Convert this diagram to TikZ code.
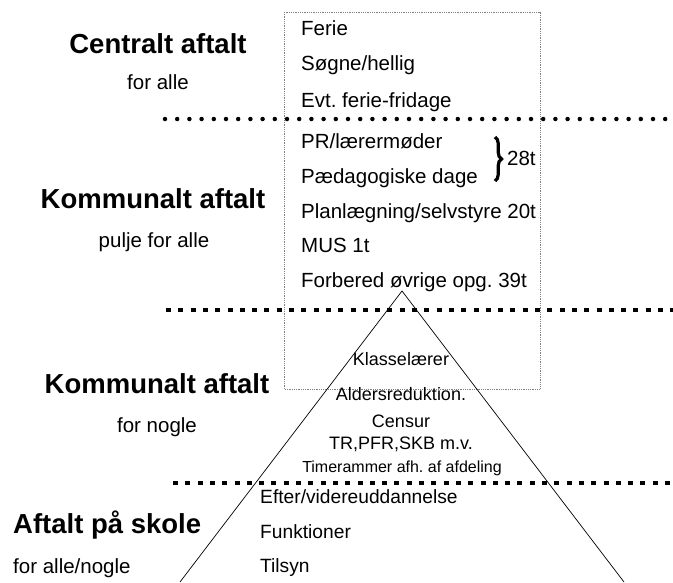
\documentclass[tikz,border=0pt]{standalone}
\usepackage{fontspec}
\setmainfont{Liberation Sans}
\usetikzlibrary{decorations.pathreplacing}
\frenchspacing
\tikzset{
  head/.style={font=\fontsize{27.5}{30}\selectfont\bfseries, anchor=base, inner sep=0pt},
  sub/.style={font=\fontsize{20.5}{24}\selectfont, anchor=base, inner sep=0pt},
  boxtxt/.style={font=\fontsize{20.5}{24}\selectfont, anchor=base west, inner sep=0pt},
  tritxt/.style={font=\fontsize{18}{22}\selectfont, anchor=base, inner sep=0pt},
  smalltri/.style={font=\fontsize{16}{20}\selectfont, anchor=base, inner sep=0pt},
  lowtxt/.style={font=\fontsize{19.2}{22}\selectfont, anchor=base west, inner sep=0pt},
  rounddots/.style={line width=4.5pt, line cap=round, dash pattern=on 0pt off 12.2pt},
  squaredots/.style={line width=4.5pt, dash pattern=on 5pt off 7.3pt},
  framebox/.style={draw=gray, line width=0.8pt, densely dotted},
  triline/.style={draw=black, line width=0.7pt}
}
\begin{document}
\begin{tikzpicture}[x=1pt,y=-1pt]
\useasboundingbox (0,0) rectangle (673,582);
% frame
\draw[framebox] (284,12) rectangle (540,389);
% separators
\coordinate (l1a) at (165,119); \coordinate (l1b) at (673,119);
\coordinate (l2a) at (166,310); \coordinate (l2b) at (673,310);
\coordinate (l3a) at (173,483); \coordinate (l3b) at (673,483);
\draw[rounddots] (l1a) -- (l1b);
\draw[squaredots] (l2a) -- (l2b);
\draw[squaredots] (l3a) -- (l3b);
% triangle
\coordinate (apex) at (402,291);
\coordinate (tl) at (180,582);
\coordinate (tr) at (624,582);
\draw[triline] (tl) -- (apex) -- (tr);
% left headings
\node[head] (h1) at (158,53) {Centralt aftalt};
\node[sub] (s1) at (158,89) {for alle};
\node[head] (h2) at (153,208) {Kommunalt aftalt};
\node[sub] (s2) at (154,247) {pulje for alle};
\node[head] (h3) at (157,393) {Kommunalt aftalt};
\node[sub] (s3) at (157,432) {for nogle};
\node[head, anchor=base west] (h4) at (13,533) {Aftalt på skole};
\node[sub, anchor=base west] (s4) at (13,573) {for alle/nogle};
% box texts
\node[boxtxt] (b1) at (301,35) {Ferie};
\node[boxtxt] (b2) at (301,70) {Søgne/hellig};
\node[boxtxt] (b3) at (301,107) {Evt. ferie-fridage};
\node[boxtxt] (b4) at (301,148) {PR/lærermøder};
\node[boxtxt] (b5) at (301,183) {Pædagogiske dage};
\node[boxtxt] (b6) at (301,218) {Planlægning/selvstyre 20t};
\node[boxtxt] (b7) at (301,252) {MUS 1t};
\node[boxtxt] (b8) at (301,287) {Forbered øvrige opg. 39t};
% brace
\coordinate (bra) at (495,137);
\coordinate (brb) at (495,181);
\draw[decorate, decoration={brace, amplitude=6.5pt}, line width=3.2pt] (bra) -- (brb);
\node[boxtxt] (t28) at (507,165) {28t};
% triangle texts
\node[tritxt] (k1) at (401,365) {Klasselærer};
\node[tritxt] (k2) at (401,400) {Aldersreduktion.};
\node[tritxt] (k3) at (401,427) {Censur};
\node[tritxt] (k4) at (401,449) {TR,PFR,SKB m.v.};
\node[smalltri] (k5) at (402,472) {Timerammer afh. af afdeling};
% lower texts
\node[lowtxt] (e1) at (260,503) {Efter/videreuddannelse};
\node[lowtxt] (e2) at (260,538) {Funktioner};
\node[lowtxt] (e3) at (260,572) {Tilsyn};
\end{tikzpicture}
\end{document}
